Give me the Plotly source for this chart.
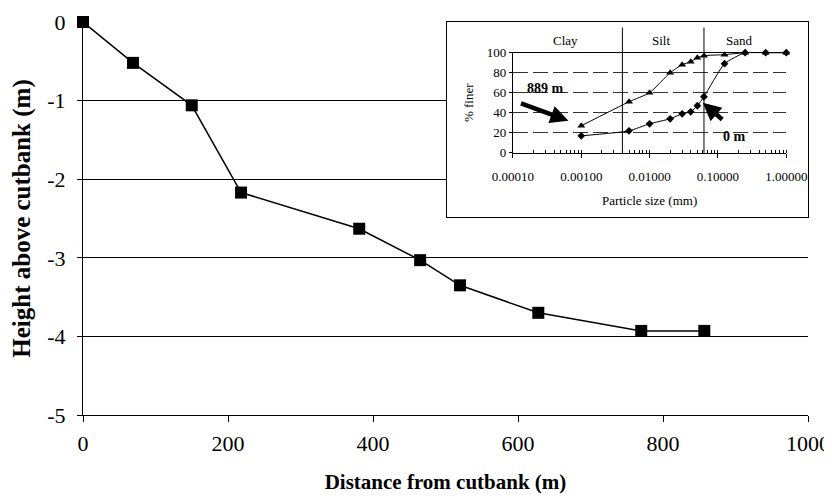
import math
import plotly.graph_objects as go

# Main profile data
distance_m = [0, 69, 150, 218, 381, 465, 520, 628, 770, 857]
height_m = [0, -0.52, -1.06, -2.17, -2.63, -3.03, -3.35, -3.70, -3.93, -3.93]
height_ticks = [0, -1, -2, -3, -4, -5]
height_tick_labels = ["0", "-1", "-2", "-3", "-4", "-5"]

# Inset grain-size curves
size_889 = [0.001, 0.005, 0.01, 0.02, 0.03, 0.04, 0.05, 0.0625, 0.125, 0.25, 0.5, 1.0]
finer_889 = [27, 51, 60, 80, 88, 91, 95, 97, 98, 100, 100, 100]
size_0 = [0.001, 0.005, 0.01, 0.02, 0.03, 0.04, 0.05, 0.0625, 0.125, 0.25, 0.5, 1.0]
finer_0 = [17, 22, 29, 34, 39, 41, 47, 56, 89, 100, 100, 100]

class_bounds = [0.004, 0.0625]
class_names = ["Clay", "Silt", "Sand"]
class_label_x = [0.00058, 0.0148, 0.204]

SERIF = "Liberation Serif, Times New Roman, serif"

fig = go.Figure()

fig.add_trace(go.Scatter(
    x=distance_m, y=height_m, mode="lines+markers",
    line=dict(color="black", width=1.5),
    marker=dict(symbol="square", size=12, color="black"),
    cliponaxis=False, showlegend=False, hoverinfo="skip"))

# box subplot (white panel with border)
fig.add_trace(go.Scatter(x=[], y=[], xaxis="x2", yaxis="y2",
                         showlegend=False, hoverinfo="skip"))

fig.add_trace(go.Scatter(
    x=size_889, y=finer_889, xaxis="x3", yaxis="y3", mode="lines+markers",
    line=dict(color="black", width=1, shape="spline", smoothing=0.5),
    marker=dict(symbol="triangle-up", size=7, color="black"),
    cliponaxis=False, showlegend=False, hoverinfo="skip"))
fig.add_trace(go.Scatter(
    x=size_0, y=finer_0, xaxis="x3", yaxis="y3", mode="lines+markers",
    line=dict(color="black", width=1, shape="spline", smoothing=0.5),
    marker=dict(symbol="diamond", size=6, color="black"),
    cliponaxis=False, showlegend=False, hoverinfo="skip"))

for b in class_bounds:
    fig.add_shape(type="line", xref="x3", yref="y3 domain",
                  x0=b, x1=b, y0=0, y1=1.25,
                  line=dict(color="black", width=1))

for name, lx in zip(class_names, class_label_x):
    fig.add_annotation(x=math.log10(lx), y=0.954, xref="x3", yref="paper",
                       xanchor="center", yanchor="middle",
                       text=name, showarrow=False,
                       font=dict(family=SERIF, size=13, color="black"))

fig.add_annotation(x=math.log10(0.000295), y=64, xref="x3", yref="y3",
                   text="<b>889 m</b>", showarrow=False,
                   font=dict(family=SERIF, size=14, color="black"))
fig.add_annotation(x=math.log10(0.00065), y=32, xref="x3", yref="y3",
                   ax=-49, ay=-18, text="", showarrow=True,
                   arrowhead=2, arrowsize=0.8, arrowwidth=4.5, arrowcolor="black")
fig.add_annotation(x=math.log10(0.175), y=16, xref="x3", yref="y3",
                   text="<b>0 m</b>", showarrow=False,
                   font=dict(family=SERIF, size=14, color="black"))
fig.add_annotation(x=math.log10(0.06), y=50, xref="x3", yref="y3",
                   ax=21, ay=18, text="", showarrow=True,
                   arrowhead=2, arrowsize=0.8, arrowwidth=4.5, arrowcolor="black")

# page body has an 8px margin: shrink figure so the plot lands where the reference has it
fig.update_layout(
    width=824, height=493,
    margin=dict(l=75, r=24, t=14, b=86),
    paper_bgcolor="white", plot_bgcolor="white",
    font=dict(family=SERIF, color="black"),
    xaxis=dict(range=[0, 1000], dtick=200, showgrid=False, zeroline=False,
               showline=True, linecolor="black", linewidth=1, automargin=False,
               ticks="outside", ticklen=6, tickcolor="black",
               tickfont=dict(family=SERIF, size=22), ticklabelstandoff=3,
               title=dict(text="<b>Distance from cutbank (m)</b>",
                          font=dict(family=SERIF, size=21), standoff=18)),
    yaxis=dict(range=[-5, 0], tickvals=height_ticks, ticktext=height_tick_labels,
               showgrid=True, gridcolor="black", gridwidth=1, automargin=False,
               zeroline=False, showline=True, linecolor="black", linewidth=1,
               ticks="outside", ticklen=5, tickcolor="black",
               tickfont=dict(family=SERIF, size=22), ticklabelstandoff=7,
               title=dict(text="<b>Height above cutbank (m)</b>",
                          font=dict(family=SERIF, size=25), standoff=10)),
    xaxis2=dict(domain=[0.502, 1.0], range=[0, 1], anchor="y2", automargin=False,
                showgrid=False, zeroline=False, showticklabels=False, ticks="",
                showline=True, mirror=True, linecolor="black", linewidth=1),
    yaxis2=dict(domain=[0.504, 1.0], range=[0, 1], anchor="x2", automargin=False,
                showgrid=False, zeroline=False, showticklabels=False, ticks="",
                showline=True, mirror=True, linecolor="black", linewidth=1),
    xaxis3=dict(type="log", domain=[0.593, 0.970], range=[-4, 0], anchor="y3",
                dtick=1, tickformat=".5f", showgrid=False, zeroline=False,
                showline=True, mirror=True, linecolor="black", linewidth=1,
                automargin=False,
                ticks="outside", ticklen=4, tickcolor="black",
                minor=dict(ticks="inside", ticklen=3, tickcolor="black", dtick="D1"),
                tickfont=dict(family=SERIF, size=13), ticklabelstandoff=8,
                title=dict(text="Particle size (mm)", font=dict(family=SERIF, size=13),
                           standoff=12)),
    yaxis3=dict(domain=[0.667, 0.922], range=[0, 100], anchor="x3",
                dtick=20, showgrid=True, gridcolor="#333", gridwidth=1,
                griddash="15px,5px", zeroline=False, automargin=False,
                showline=True, linecolor="black", linewidth=1,
                ticks="outside", ticklen=3, tickcolor="black",
                tickfont=dict(family=SERIF, size=13),
                title=dict(text="% finer", font=dict(family=SERIF, size=13), standoff=10)),
)

fig.write_html("out.html")
